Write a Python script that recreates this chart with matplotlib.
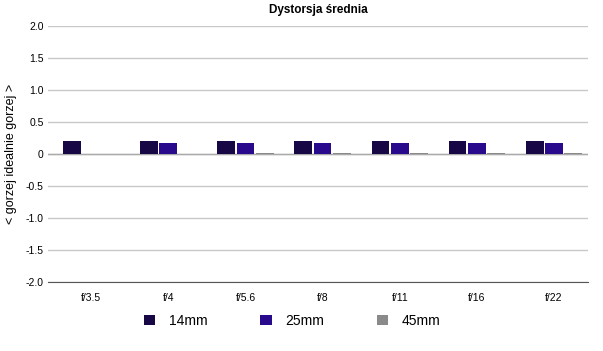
import matplotlib
matplotlib.use("Agg")
import matplotlib.pyplot as plt
import numpy as np

# apertures and distortion values per focal length
apertures = ["f/3.5", "f/4", "f/5.6", "f/8", "f/11", "f/16", "f/22"]
d14 = [0.21, 0.21, 0.21, 0.21, 0.21, 0.21, 0.21]
d25 = [np.nan, 0.17, 0.17, 0.17, 0.17, 0.17, 0.17]
d45 = [np.nan, np.nan, 0.02, 0.02, 0.02, 0.02, 0.02]
series = [("14mm", d14, "#170845"), ("25mm", d25, "#2a0a8c"), ("45mm", d45, "#8a8a8a")]

plt.rcParams['font.family'] = ['Liberation Sans', 'DejaVu Sans']

fig = plt.figure(figsize=(6.03, 3.51), dpi=100)
ax = fig.add_axes([48/603, 69/351, 540/603, 256/351])

x = np.arange(len(apertures))
w = 0.25
for i, (name, vals, col) in enumerate(series):
    ax.bar(x + (i - 1) * w + 0.06, vals, width=w * 0.92, color=col, label=name, zorder=3)

ax.set_xlim(-0.5, len(apertures) - 0.5)
ax.set_ylim(-2.0, 2.0)
yt = np.arange(-2.0, 2.01, 0.5)
ax.set_yticks(yt)
ax.set_yticklabels(["0" if abs(v) < 1e-9 else f"{v:.1f}" for v in yt], fontsize=7.5)
ax.set_xticks(x + 0.06)
ax.set_xticklabels(apertures, fontsize=7.5)
ax.tick_params(axis='x', length=0, pad=8)
ax.tick_params(axis='y', length=0, pad=3)

ax.grid(axis='y', color="#c8c8c8", linewidth=1, zorder=0)
for s in ["top", "right", "left"]:
    ax.spines[s].set_visible(False)
ax.spines["bottom"].set_color("#555555")
ax.axhline(0, color="#aaaaaa", linewidth=1, zorder=2)

ax.set_title("Dystorsja średnia", fontsize=8.5, fontweight="bold", pad=9)
ax.set_ylabel("< gorzej idealnie gorzej >", fontsize=9, labelpad=6)

fig.legend(loc="lower center", bbox_to_anchor=(0.485, 0.03), ncol=3, frameon=False,
           fontsize=10, handlelength=0.8, handleheight=0.8, columnspacing=3.8, handletextpad=1.0)

plt.savefig("out.png", dpi=100)
